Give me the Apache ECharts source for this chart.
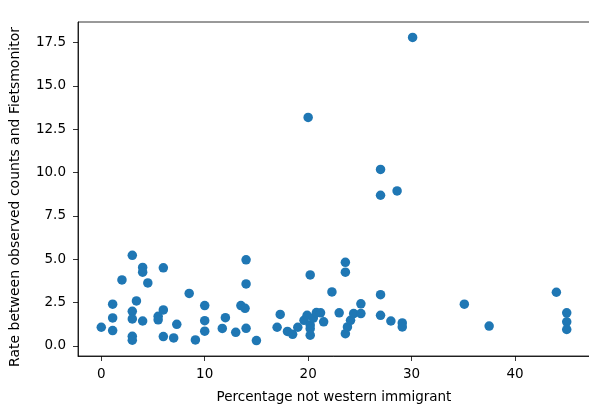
<!DOCTYPE html>
<html>
<head>
<meta charset="utf-8">
<script src="https://cdn.jsdelivr.net/npm/echarts@6/dist/echarts.min.js"></script>
<style>
  html, body { margin: 0; padding: 0; background: #fff; }
  #chart { width: 589px; height: 410px; }
</style>
</head>
<body>
<div id="chart"></div>
<script>
// Percentage of non-western immigrants per area
const immigrantPct = [
  0.0, 1.1, 1.1, 1.1, 2.0, 3.0, 3.0, 3.0, 3.0, 3.0,
  3.4, 4.0, 4.0, 4.0, 4.5, 5.5, 5.5, 6.0, 6.0, 6.0,
  7.0, 7.3, 8.5, 9.1, 10.0, 10.0, 10.0, 11.7, 12.0, 13.0,
  13.5, 13.9, 14.0, 14.0, 14.0, 15.0,
  17.0, 17.3, 18.0, 18.5, 19.0, 19.6, 19.9, 20.0, 20.2, 20.2,
  20.2, 20.2, 20.5, 20.8, 21.2, 21.5, 22.3, 23.0, 23.6, 23.6,
  23.6, 23.8, 24.1, 24.4, 25.1, 25.1, 27.0, 27.0, 27.0, 27.0,
  28.0, 28.6, 29.1, 29.1, 30.1, 35.1, 37.5, 44.0, 45.0, 45.0, 45.0
];
// Ratio between observed counts and Fietsmonitor estimate
const countRatio = [
  1.07, 2.40, 1.61, 0.88, 3.80, 5.22, 1.99, 1.55, 0.55, 0.32,
  2.59, 4.52, 4.25, 1.43, 3.63, 1.70, 1.50, 4.50, 2.07, 0.53,
  0.45, 1.24, 3.02, 0.34, 2.32, 1.45, 0.84, 1.00, 1.62, 0.78,
  2.32, 2.16, 4.96, 3.57, 1.01, 0.30,
  1.07, 1.81, 0.83, 0.66, 1.07, 1.47, 1.76, 13.18, 4.09, 1.20,
  0.99, 0.61, 1.60, 1.92, 1.90, 1.38, 3.11, 1.90, 4.82, 4.25,
  0.70, 1.09, 1.47, 1.86, 2.42, 1.86, 10.18, 8.69, 2.95, 1.76,
  1.43, 8.94, 1.32, 1.09, 17.80, 2.40, 1.14, 3.09, 1.90, 1.38, 0.94
];
const xTicks = [0, 10, 20, 30, 40];
const yTicks = [0, 2.5, 5, 7.5, 10, 12.5, 15, 17.5];

const points = immigrantPct.map((x, i) => [x, countRatio[i]]);

const font = 'DejaVu Sans';
const chart = echarts.init(document.getElementById('chart'), null, { renderer: 'canvas' });
chart.setOption({
  animation: false,
  backgroundColor: '#ffffff',
  grid: {
    left: 78, top: 22, width: 512, height: 334,
    containLabel: false, outerBoundsMode: 'none',
    show: true, borderColor: '#000', borderWidth: 0.8, backgroundColor: 'transparent'
  },
  xAxis: {
    type: 'value', min: -2.25, max: 47.25,
    name: 'Percentage not western immigrant',
    nameLocation: 'middle', nameGap: 34,
    nameTextStyle: { fontFamily: font, fontSize: 13.5, color: '#000' },
    axisLine: { show: true, onZero: false, lineStyle: { color: '#000', width: 0.8 } },
    axisTick: { show: true, length: 5, customValues: xTicks, lineStyle: { color: '#000', width: 0.8 } },
    axisLabel: { customValues: xTicks, margin: 11, fontFamily: font, fontSize: 13.5, color: '#000',
      formatter: v => String(v) },
    splitLine: { show: false }
  },
  yAxis: {
    type: 'value', min: -0.59, max: 18.69,
    name: 'Rate between observed counts and Fietsmonitor',
    nameLocation: 'middle', nameGap: 56, nameRotate: 90,
    nameTextStyle: { fontFamily: font, fontSize: 14, color: '#000', padding: [0, 16, 0, 0] },
    axisLine: { show: true, onZero: false, lineStyle: { color: '#000', width: 0.8 } },
    axisTick: { show: true, length: 5, customValues: yTicks, lineStyle: { color: '#000', width: 0.8 } },
    axisLabel: { customValues: yTicks, margin: 12, fontFamily: font, fontSize: 13.5, color: '#000',
      formatter: v => v.toFixed(1) },
    splitLine: { show: false }
  },
  series: [{
    type: 'scatter',
    data: points,
    symbol: 'circle',
    symbolSize: 9.5,
    itemStyle: { color: '#1f77b4', opacity: 1 }
  }]
});
</script>
</body>
</html>
